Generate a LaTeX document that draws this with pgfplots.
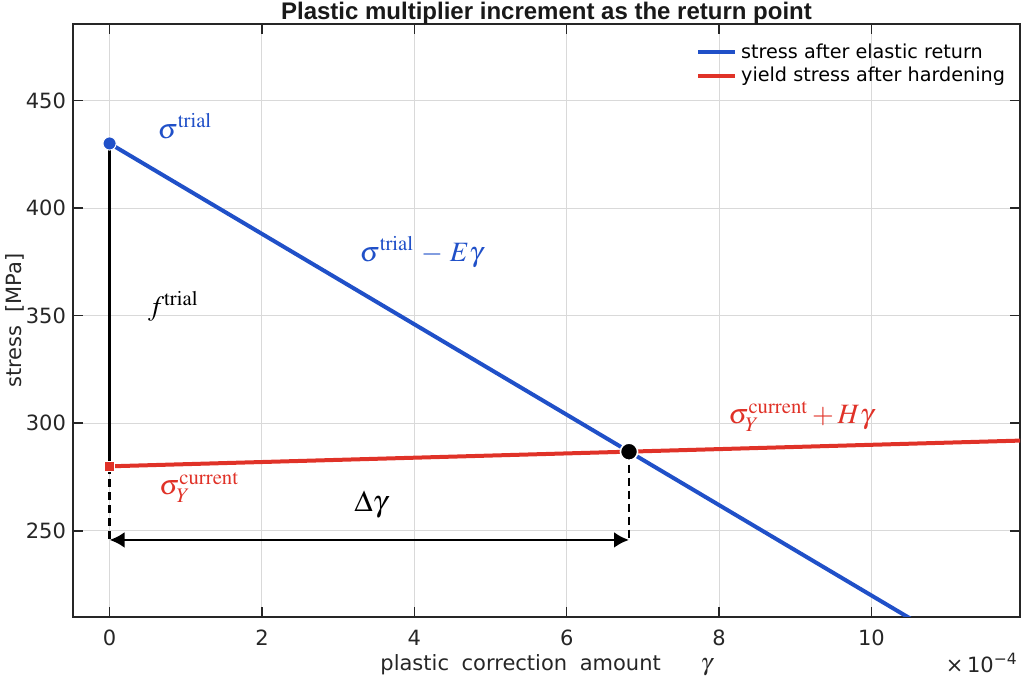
\documentclass[border=0pt]{standalone}
\usepackage{mathptmx}
\usepackage[no-math]{fontspec}
\setmainfont{DejaVu Sans}
\newfontfamily\titlefont{Liberation Sans}
\usepackage{pgfplots}
\pgfplotsset{compat=1.18}
\usetikzlibrary{arrows.meta}
\definecolor{cblue}{RGB}{32,80,200}
\definecolor{cred}{RGB}{224,50,40}
\definecolor{axgray}{RGB}{38,38,38}
\begin{document}
\begin{tikzpicture}
\begin{axis}[
  scale only axis, width=473.5pt, height=296.5pt,
  xmin=-0.48, xmax=11.95, ymin=210, ymax=485.5,
  xtick={0,2,...,10}, ytick={250,300,...,450},
  clip mode=individual,
  grid=major, major grid style={draw=black!15, line width=0.5pt},
  axis line style={draw=axgray, line width=0.8pt},
  tick style={draw=axgray, line width=0.8pt},
  major tick length=5pt,
  tick align=inside,
  ticklabel style={font=\fontsize{10.5}{12}\selectfont, text=axgray},
  xticklabel style={yshift=-3pt},
  /pgf/number format/assume math mode=true,
  every axis title shift=0pt,
  title={Plastic multiplier increment as the return point},
  title style={at={(axis description cs:0.5,1.0185)}, anchor=center, font=\titlefont\bfseries\fontsize{12}{14}\selectfont, text=black!90},
  xlabel={plastic\hspace{0.6em}correction\hspace{0.6em}amount\hspace{1.9em}{\fontsize{12}{12}\selectfont$\gamma$}},
  xlabel style={at={(axis description cs:0.5,-0.081)}, anchor=center, font=\fontsize{10.5}{12}\selectfont, text=axgray},
  ylabel={stress\hspace{0.6em}[MPa]},
  ylabel style={at={(axis description cs:-0.0612,0.5)}, anchor=center, font=\fontsize{10.5}{12}\selectfont, text=axgray},
  legend style={draw=none, fill=none, at={(axis description cs:0.991,0.978)}, anchor=north east, font=\fontsize{9.6}{12}\selectfont, row sep=-1pt, inner sep=1pt},
  legend cell align=left,
  legend image code/.code={\draw[#1,line width=2pt] (0pt,0pt) -- (18.5pt,0pt);},
]
% construction lines
\addplot[black, line width=1.5pt, forget plot] coordinates {(0,430) (0,280)};
\addplot[black, line width=1.4pt, dash pattern=on 4pt off 2.5pt, forget plot] coordinates {(0,280) (0,246)};
\addplot[black, line width=1.4pt, dash pattern=on 4pt off 2.5pt, forget plot] coordinates {(6.818,286.8) (6.818,246)};
\addplot[black, line width=1.4pt, {Latex[length=7.5pt,width=8pt]}-{Latex[length=7.5pt,width=8pt]}, forget plot] coordinates {(0,245.8) (6.818,245.8)};
% main lines
\addplot[cblue, line width=2pt] coordinates {(0,430) (12,178)};
\addlegendentry{stress after elastic return}
\addplot[cred, line width=2pt] coordinates {(0,280) (12,292)};
\addlegendentry{yield stress after hardening}
% markers
\addplot[only marks, mark=*, mark size=3.3pt, cblue, mark options={draw=white, line width=0.5pt}, forget plot] coordinates {(0,430)};
\addplot[only marks, mark=square*, mark size=2.6pt, cred, mark options={draw=white, line width=0.4pt}, forget plot] coordinates {(0,280)};
\addplot[only marks, mark=*, mark size=4.3pt, black, mark options={draw=white, line width=0.8pt}, forget plot] coordinates {(6.818,286.8)};
% annotations
\node[anchor=west, text=cblue, font=\fontsize{14}{16}\selectfont, inner sep=0pt] at (axis cs:0.63,438) {$\sigma^{\mathrm{trial}}$};
\node[anchor=west, text=cblue, font=\fontsize{14}{16}\selectfont, inner sep=0pt] at (axis cs:3.28,379.5) {$\sigma^{\mathrm{trial}}\,-\,E\gamma$};
\node[anchor=west, text=black, font=\fontsize{14}{16}\selectfont, inner sep=0pt] at (axis cs:0.5,354.5) {$f^{\mathrm{trial}}$};
\node[anchor=west, text=cred, font=\fontsize{14}{16}\selectfont, inner sep=0pt] at (axis cs:8.12,303.3) {$\sigma_Y^{\mathrm{current}}+H\gamma$};
\node[anchor=west, text=cred, font=\fontsize{14}{16}\selectfont, inner sep=0pt] at (axis cs:0.65,270.3) {$\sigma_Y^{\mathrm{current}}$};
\node[anchor=center, text=black, font=\fontsize{15}{17}\selectfont] at (axis cs:3.43,262.4) {$\Delta\gamma$};
\node[anchor=east, text=axgray, font=\fontsize{10.5}{12}\selectfont, inner sep=0pt] at (rel axis cs:0.998,0) [yshift=-23pt] {×\,10\textsuperscript{−4}};
\end{axis}
\pgfresetboundingbox
\path[use as bounding box] (-36.5pt,-31.5pt) rectangle (475.5pt,308.5pt);
\end{tikzpicture}
\end{document}
